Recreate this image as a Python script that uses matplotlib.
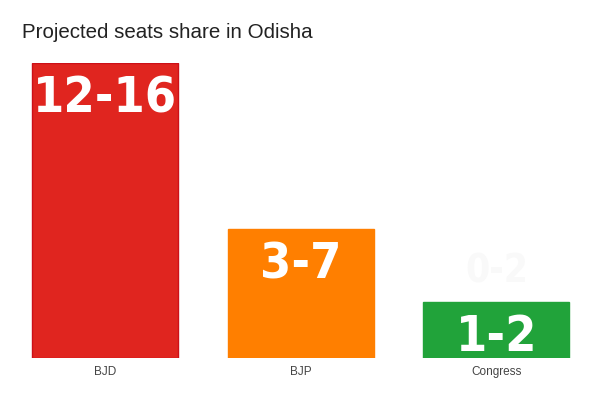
import matplotlib.pyplot as plt

parties = ['BJD', 'BJP', 'Congress']
ranges = ['12-16', '3-7', '1-2']
heights = [16, 7, 3.05]
colors = ['#e0251f', '#ff7f00', '#21a33a']
edges = ['#cc1018', '#ff7f00', '#21a33a']

fig = plt.figure(figsize=(6, 4), dpi=100)
ax = fig.add_axes([7 / 600, 42 / 400, 587.3 / 600, 295 / 400])

x = range(len(parties))
bars = ax.bar(x, heights, width=0.746, color=colors, edgecolor=edges, linewidth=1)

for b, txt in zip(bars, ranges):
    ax.annotate(txt, (b.get_x() + b.get_width() / 2, b.get_height()),
                xytext=(0, -8), textcoords='offset points', ha='center', va='top',
                fontsize=36, fontweight='bold', fontstretch='condensed', color='white',
                family='DejaVu Sans')

# faint ghost text above the Congress bar
ax.text(2, 4.7, '0-2', ha='center', va='center', fontsize=28, fontweight='bold',
        fontstretch='condensed', color='#f9f9f9', family='DejaVu Sans')

ax.set_xlim(-0.5, 2.5)
ax.set_ylim(0, 16)
ax.set_xticks(list(x))
ax.set_xticklabels(parties, fontsize=8.5, color='#444444', family=['Liberation Sans', 'DejaVu Sans'])
ax.tick_params(axis='x', length=0, pad=6)
ax.set_yticks([])
for s in ax.spines.values():
    s.set_visible(False)

fig.text(22 / 600, 1 - 32 / 400, 'Projected seats share in Odisha', fontsize=14.8,
         color='#222222', va='center', ha='left', family=['Liberation Sans', 'DejaVu Sans'])

fig.savefig('out.png', dpi=100)
